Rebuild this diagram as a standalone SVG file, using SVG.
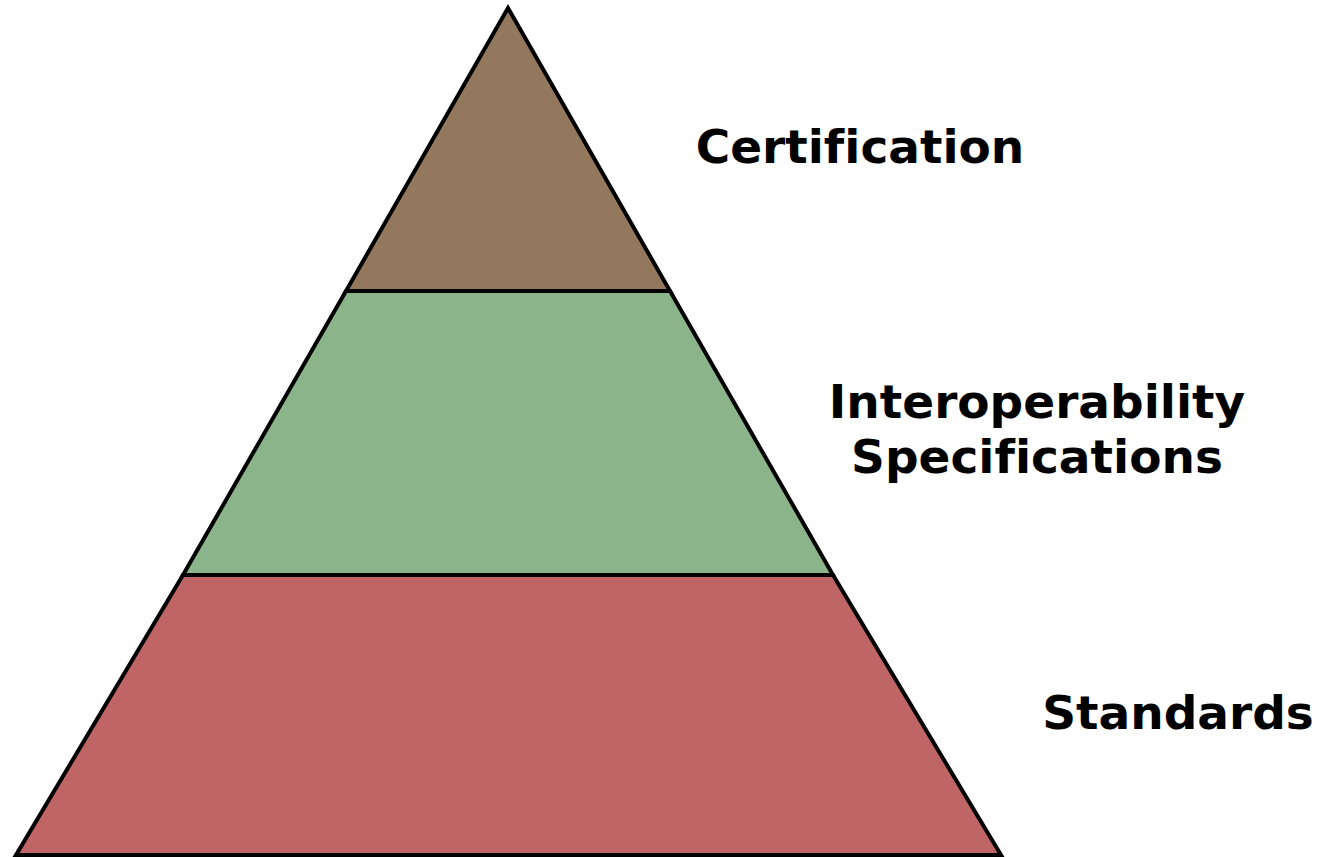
<svg xmlns="http://www.w3.org/2000/svg" width="1323" height="857" viewBox="0 0 1323 857">
<style>
.layer{stroke:#000;stroke-width:4;stroke-linejoin:miter}
.lbl{font-family:"DejaVu Sans",Verdana,sans-serif;font-weight:bold;font-size:47px;fill:#000;text-anchor:middle;font-variant-ligatures:none}
</style>
<rect width="1323" height="857" fill="#fff"/>
<g id="standards">
<polygon class="layer" fill="#BF6565" points="183,575 833,575 1001,855 16,855"/>
<text class="lbl" x="1178" y="729">Standards</text>
</g>
<g id="interoperability">
<polygon class="layer" fill="#8BB48B" points="346,291 670,291 833,575 183,575"/>
<text class="lbl" x="1037" y="418">Interoperability</text>
<text class="lbl" x="1037" y="473">Specifications</text>
</g>
<g id="certification">
<polygon class="layer" fill="#94785E" points="508,8 670,291 346,291"/>
<text class="lbl" x="860" y="163">Certification</text>
</g>
<g id="connectors"></g>
</svg>
